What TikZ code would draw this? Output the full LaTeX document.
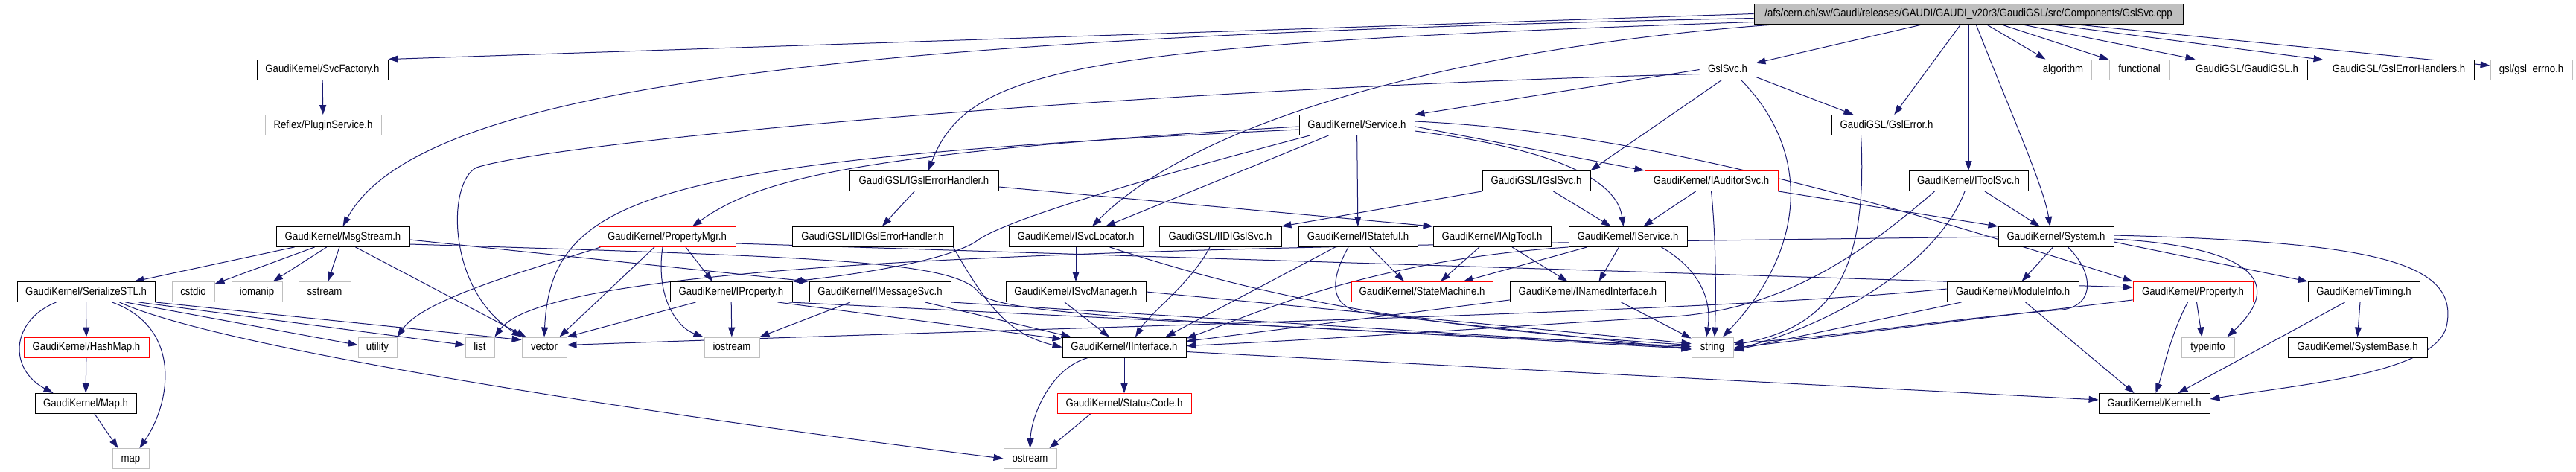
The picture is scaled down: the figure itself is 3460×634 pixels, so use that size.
\documentclass[tikz,border=0pt]{standalone}
\usepackage{fontspec}
\newfontfamily\lsans{Liberation Sans}[FakeStretch=0.88]
\usetikzlibrary{arrows.meta,calc}
\definecolor{edgecol}{HTML}{191970}
\definecolor{grayb}{HTML}{BFBFBF}
\definecolor{redb}{HTML}{FF0000}
\newcommand\nodefont{\lsans\fontsize{15}{18}\selectfont}
\pgfdeclarelayer{bg}
\pgfsetlayers{bg,main}
\tikzset{
  kb/.style={draw=black, fill=white, line width=0.9pt, minimum height=27pt, inner sep=0pt, text height=11pt, text depth=3pt, font=\nodefont},
  rb/.style={kb, draw=redb},
  gb/.style={kb, draw=grayb},
  rootb/.style={kb, fill=grayb},
  ed/.style={draw=edgecol, line width=1pt, -{Triangle[length=13pt,width=9pt]}},
}
\begin{document}
\begin{tikzpicture}[x=1pt,y=-1pt]
\useasboundingbox (0,0) rectangle (3460,634);
% nodes
\node[rootb, minimum width=576pt] (root) at (2644,18.5) {/afs/cern.ch/sw/Gaudi/releases/GAUDI/GAUDI\_v20r3/GaudiGSL/src/Components/GslSvc.cpp};
\node[kb, minimum width=176pt] (svcf) at (433,93.5) {GaudiKernel/SvcFactory.h};
\node[gb, minimum width=156pt] (plugin) at (434,168) {Reflex/PluginService.h};
\node[kb, minimum width=75pt] (gslsvch) at (2320.5,93.5) {GslSvc.h};
\node[gb, minimum width=76pt] (algorithm) at (2771,93.5) {algorithm};
\node[gb, minimum width=81pt] (functional) at (2873.5,93.5) {functional};
\node[kb, minimum width=162pt] (gaudigsl) at (3018,93.5) {GaudiGSL/GaudiGSL.h};
\node[kb, minimum width=202pt] (gslerrhs) at (3222,93.5) {GaudiGSL/GslErrorHandlers.h};
\node[gb, minimum width=110pt] (gslerrno) at (3400,93.5) {gsl/gsl\_errno.h};
\node[kb, minimum width=155pt] (service) at (1822.5,168) {GaudiKernel/Service.h};
\node[kb, minimum width=148pt] (gslerror) at (2534,168) {GaudiGSL/GslError.h};
\node[kb, minimum width=200pt] (igslerrh) at (1241,243) {GaudiGSL/IGslErrorHandler.h};
\node[kb, minimum width=145pt] (igslsvc) at (2063.5,243) {GaudiGSL/IGslSvc.h};
\node[rb, minimum width=179pt] (iauditor) at (2298.5,243) {GaudiKernel/IAuditorSvc.h};
\node[kb, minimum width=160pt] (itoolsvc) at (2644,243) {GaudiKernel/IToolSvc.h};
\node[kb, minimum width=179pt] (msgstream) at (460.5,318) {GaudiKernel/MsgStream.h};
\node[rb, minimum width=184pt] (propmgr) at (896,318) {GaudiKernel/PropertyMgr.h};
\node[kb, minimum width=216pt] (iidigslerrh) at (1172,318) {GaudiGSL/IIDIGslErrorHandler.h};
\node[kb, minimum width=180pt] (isvcloc) at (1445,318) {GaudiKernel/ISvcLocator.h};
\node[kb, minimum width=164pt] (iidigslsvc) at (1639,318) {GaudiGSL/IIDIGslSvc.h};
\node[kb, minimum width=160pt] (istateful) at (1824,318) {GaudiKernel/IStateful.h};
\node[kb, minimum width=158pt] (ialgtool) at (2004,318) {GaudiKernel/IAlgTool.h};
\node[kb, minimum width=159pt] (iservice) at (2186.5,318) {GaudiKernel/IService.h};
\node[kb, minimum width=155pt] (system) at (2761.5,318) {GaudiKernel/System.h};
\node[kb, minimum width=185pt] (serialize) at (115.5,392) {GaudiKernel/SerializeSTL.h};
\node[gb, minimum width=57pt] (cstdio) at (259.5,392) {cstdio};
\node[gb, minimum width=68pt] (iomanip) at (345,392) {iomanip};
\node[gb, minimum width=70pt] (sstream) at (436,392) {sstream};
\node[kb, minimum width=164pt] (iproperty) at (982,392) {GaudiKernel/IProperty.h};
\node[kb, minimum width=190pt] (imsgsvc) at (1182,392) {GaudiKernel/IMessageSvc.h};
\node[kb, minimum width=188pt] (isvcmgr) at (1445,392) {GaudiKernel/ISvcManager.h};
\node[rb, minimum width=190pt] (statemach) at (1910,392) {GaudiKernel/StateMachine.h};
\node[kb, minimum width=209pt] (inamed) at (2132.5,392) {GaudiKernel/INamedInterface.h};
\node[kb, minimum width=177pt] (moduleinfo) at (2703.5,392) {GaudiKernel/ModuleInfo.h};
\node[rb, minimum width=161pt] (property) at (2945.5,392) {GaudiKernel/Property.h};
\node[kb, minimum width=150pt] (timing) at (3175,392) {GaudiKernel/Timing.h};
\node[rb, minimum width=168pt] (hashmap) at (116,466.5) {GaudiKernel/HashMap.h};
\node[gb, minimum width=52pt] (utility) at (507,466.5) {utility};
\node[gb, minimum width=39pt] (list) at (644.5,466.5) {list};
\node[gb, minimum width=60pt] (vector) at (731,466.5) {vector};
\node[gb, minimum width=74pt] (iostream) at (983,466.5) {iostream};
\node[kb, minimum width=166pt] (iinterface) at (1510,466.5) {GaudiKernel/IInterface.h};
\node[gb, minimum width=56pt] (string) at (2300,466.5) {string};
\node[gb, minimum width=71pt] (typeinfo) at (2965.5,466.5) {typeinfo};
\node[kb, minimum width=187pt] (systembase) at (3166.5,466.5) {GaudiKernel/SystemBase.h};
\node[kb, minimum width=136pt] (mapH) at (115,542) {GaudiKernel/Map.h};
\node[rb, minimum width=180pt] (statuscode) at (1510,542) {GaudiKernel/StatusCode.h};
\node[kb, minimum width=149pt] (kernel) at (2893.5,542) {GaudiKernel/Kernel.h};
\node[gb, minimum width=49pt] (mapstd) at (175.5,616) {map};
\node[gb, minimum width=71pt] (ostream) at (1383.5,616) {ostream};

\begin{pgfonlayer}{bg}
% root
\draw[ed] (root.west) -- (svcf.north east);
\draw[ed] ($(root.west)+(0,6)$) .. controls (1100,50) and (560,120) .. (msgstream.north);
\draw[ed] ($(root.west)+(0,11)$) .. controls (1450,60) and (1300,90) .. ($(igslerrh.north)+(6,0)$);
\draw[ed] ($(root.south west)+(35,0)$) .. controls (2000,60) and (1620,150) .. ($(isvcloc.north)+(22,0)$);
\draw[ed] (root) -- (gslsvch);
\draw[ed] (root) -- (gslerror);
\draw[ed] (root) -- (itoolsvc);
\draw[ed] ($(root.south)+(10,0)$) .. controls (2700,150) and (2745,250) .. ($(system.north)+(-8,0)$);
\draw[ed] (root) -- (algorithm);
\draw[ed] (root) -- (functional);
\draw[ed] (root) -- (gaudigsl);
\draw[ed] (root) -- (gslerrhs);
\draw[ed] (root) -- (gslerrno);
% SvcFactory
\draw[ed] (svcf) -- (plugin);
% GslSvc.h
\draw[ed] (gslsvch.west) -- (service.north east);
\draw[ed] ($(gslsvch.west)+(0,6)$) .. controls (1500,120) and (750,190) .. (640,225) .. controls (600,245) and (600,390) .. (vector.north west);
\draw[ed] ($(gslsvch.south west)+(30,0)$) -- (igslsvc.north east);
\draw[ed] ($(gslsvch.south east)+(0,-4)$) -- ($(gslerror.north west)+(30,0)$);
\draw[ed] ($(gslsvch.south east)+(-20,0)$) .. controls (2430,200) and (2430,330) .. ($(string.north)+(14,0)$);
% GslError
\draw[ed] ($(gslerror.south west)+(40,0)$) .. controls (2510,380) and (2450,440) .. ($(string.east)+(0,-3)$);
% Service
\draw[ed] ($(service.west)+(0,2)$) .. controls (1150,205) and (1020,240) .. ($(propmgr.north)+(34,0)$);
\draw[ed] ($(service.west)+(0,6)$) .. controls (880,215) and (740,260) .. (vector.north);
\draw[ed] ($(service.south west)+(40,0)$) -- ($(isvcloc.north)+(40,0)$);
\draw[ed] ($(service.south west)+(15,0)$) .. controls (1500,250) and (1340,300) .. (1310,325) .. controls (1260,355) and (1120,372) .. (iproperty.north east);
\draw[ed] (service) -- (istateful);
\draw[ed] ($(service.east)+(0,2)$) -- (iauditor.north west);
\draw[ed] ($(service.east)+(0,8)$) .. controls (2050,195) and (2170,230) .. ($(iservice.north)+(-6,0)$);
\draw[ed] ($(service.east)+(0,-5)$) .. controls (2150,175) and (2420,235) .. (property.north west);
% IGslErrorHandler
\draw[ed] (igslerrh) -- (iidigslerrh);
\draw[ed] ($(igslerrh.east)+(0,8)$) -- (ialgtool.north west);
% IGslSvc
\draw[ed] (igslsvc.south west) -- (iidigslsvc.north east);
\draw[ed] (igslsvc) -- (iservice);
% IAuditorSvc
\draw[ed] (iauditor) -- (iservice);
\draw[ed] (iauditor.south) .. controls (2305,320) and (2305,400) .. ($(string.north)+(3,0)$);
\draw[ed] (iauditor.south east) -- (system.north west);
% IToolSvc
\draw[ed] (itoolsvc) -- (system);
\draw[ed] ($(itoolsvc.south)+(-5,0)$) .. controls (2600,360) and (2450,440) .. ($(string.east)+(0,3)$);
\draw[ed] ($(itoolsvc.south west)+(35,0)$) .. controls (2480,360) and (2380,415) .. (2250,425) .. controls (2000,440) and (1800,455) .. ($(iinterface.east)+(0,-2)$);
% MsgStream
\draw[ed] (msgstream) -- (serialize);
\draw[ed] (msgstream) -- (cstdio);
\draw[ed] (msgstream) -- (iomanip);
\draw[ed] (msgstream) -- (sstream);
\draw[ed] ($(msgstream.south)+(17,0)$) -- ($(vector.north west)+(6,0)$);
\draw[ed] ($(msgstream.east)+(0,4)$) -- (imsgsvc.north west);
\draw[ed] ($(msgstream.east)+(0,10)$) .. controls (1100,345) and (1280,350) .. (1314,392) .. controls (1335,425) and (1600,430) .. ($(string.west)+(0,2)$);
% PropertyMgr
\draw[ed] ($(propmgr.south)+(25,0)$) -- ($(iproperty.north)+(-25,0)$);
\draw[ed] ($(propmgr.south)+(-17,0)$) -- ($(vector.north east)+(-10,0)$);
\draw[ed] ($(propmgr.south)+(-6,0)$) .. controls (880,400) and (910,440) .. ($(iostream.north west)+(-1,0)$);
\draw[ed] ($(propmgr.east)+(0,9)$) -- ($(property.west)+(0,-6)$);
\draw[ed] ($(propmgr.south west)+(3,0)$) .. controls (720,360) and (570,400) .. (utility.north east);
% IProperty
\draw[ed] ($(iproperty.south west)+(35,0)$) -- (vector.north east);
\draw[ed] (iproperty) -- (iostream);
\draw[ed] ($(iproperty.south east)+(-20,0)$) -- ($(iinterface.north west)+(0,3)$);
\draw[ed] ($(iproperty.south east)+(-5,0)$) -- ($(string.west)+(0,-1)$);
% IMessageSvc
\draw[ed] ($(imsgsvc.south)+(-40,0)$) -- (iostream.north east);
\draw[ed] ($(imsgsvc.south east)+(-35,0)$) -- ($(iinterface.north west)+(12,0)$);
\draw[ed] (imsgsvc.south east) -- ($(string.west)+(0,1)$);
% ISvcLocator
\draw[ed] (isvcloc) -- (isvcmgr);
\draw[ed] ($(isvcloc.south east)+(-45,0)$) .. controls (1700,400) and (1900,440) .. ($(string.west)+(0,-3)$);
% ISvcManager
\draw[ed] ($(isvcmgr.south)+(-15,0)$) -- ($(iinterface.north)+(-20,0)$);
\draw[ed] (isvcmgr.east) -- ($(string.west)+(0,-5)$);
% IIDI
\draw[ed] (iidigslerrh.south east) .. controls (1330,420) and (1360,450) .. (iinterface.west);
\draw[ed] ($(iidigslsvc.south)+(-14,0)$) .. controls (1600,380) and (1545,420) .. ($(iinterface.north)+(15,0)$);
% IStateful
\draw[ed] ($(istateful.south west)+(50,0)$) -- ($(iinterface.north east)+(-28,0)$);
\draw[ed] ($(istateful.south)+(16,0)$) -- ($(statemach.north)+(-24,0)$);
\draw[ed] ($(istateful.south)+(-13,0)$) .. controls (1790,370) and (1780,410) .. (1830,420) .. controls (1950,435) and (2150,455) .. ($(string.west)+(0,3)$);
% IAlgTool
\draw[ed] ($(ialgtool.south)+(-17,0)$) -- ($(statemach.north)+(25,0)$);
\draw[ed] ($(ialgtool.south)+(27,0)$) -- ($(inamed.north)+(-27,0)$);
% IService
\draw[ed] ($(iservice.south)+(-12,0)$) -- ($(inamed.north)+(15,0)$);
\draw[ed] ($(iservice.south west)+(25,0)$) -- ($(statemach.north east)+(-40,0)$);
\draw[ed] ($(iservice.south east)+(-35,0)$) .. controls (2280,360) and (2300,400) .. ($(string.north)+(-8,0)$);
\draw[ed] (iservice.south west) .. controls (1840,350) and (1690,420) .. ($(iinterface.east)+(0,-12)$);
% INamedInterface
\draw[ed] ($(inamed.south west)+(0,-3)$) -- ($(iinterface.east)+(0,-8)$);
\draw[ed] ($(inamed.south east)+(-60,0)$) -- ($(string.north west)+(0,2)$);
% System
\draw[ed] (system.west) .. controls (1800,330) and (750,335) .. (list.north east);
\draw[ed] ($(system.south)+(-4,0)$) -- ($(moduleinfo.north)+(12,0)$);
\draw[ed] ($(system.east)+(0,7)$) -- (timing.north west);
\draw[ed] ($(system.east)+(0,3)$) .. controls (3000,330) and (3080,370) .. ($(typeinfo.north east)+(-10,0)$);
\draw[ed] ($(system.east)+(0,-2)$) .. controls (3180,325) and (3300,350) .. (3287,433) .. controls (3280,500) and (3100,515) .. ($(kernel.east)+(0,-6)$);
\draw[ed] ($(system.south)+(16,0)$) .. controls (2812,365) and (2815,410) .. (2770,416) .. controls (2600,430) and (2450,455) .. ($(string.east)+(0,-6)$);
% ModuleInfo
\draw[ed] ($(moduleinfo.west)+(0,-4)$) .. controls (2300,420) and (1500,437) .. ($(vector.east)+(0,-3)$);
\draw[ed] ($(moduleinfo.south west)+(20,0)$) -- ($(string.east)+(0,4)$);
\draw[ed] ($(moduleinfo.south)+(17,0)$) -- ($(kernel.north)+(-27,0)$);
% Property
\draw[ed] ($(property.south)+(-7,0)$) .. controls (2915,450) and (2905,500) .. ($(kernel.north)+(2,0)$);
\draw[ed] ($(property.south)+(5,0)$) -- ($(typeinfo.north)+(-8,0)$);
\draw[ed] ($(property.south west)+(0,-3)$) -- ($(string.east)+(0,1)$);
% Timing
\draw[ed] ($(timing.south)+(-5,0)$) -- (systembase.north);
\draw[ed] ($(timing.south west)+(50,0)$) -- ($(kernel.north east)+(-43,0)$);
% IInterface
\draw[ed] (iinterface) -- (statuscode);
\draw[ed] ($(iinterface.south west)+(35,0)$) .. controls (1410,495) and (1385,560) .. (ostream.north);
\draw[ed] ($(iinterface.east)+(0,6)$) -- ($(kernel.west)+(0,-5)$);
% StatusCode
\draw[ed] ($(statuscode.south west)+(45,0)$) -- ($(ostream.north east)+(-10,0)$);
% SerializeSTL
\draw[ed] ($(serialize.south west)+(53,0)$) .. controls (15,430) and (10,495) .. ($(mapH.north west)+(25,0)$);
\draw[ed] (serialize) -- (hashmap);
\draw[ed] ($(serialize.south east)+(-58,0)$) .. controls (245,440) and (230,540) .. ($(mapstd.north east)+(-13,0)$);
\draw[ed] ($(serialize.south east)+(-40,0)$) -- ($(utility.west)+(0,-3)$);
\draw[ed] ($(serialize.south east)+(-22,0)$) -- ($(list.west)+(0,-3)$);
\draw[ed] (serialize.south east) -- ($(vector.north west)+(0,4)$);
\draw[ed] ($(serialize.south east)+(-48,0)$) .. controls (300,470) and (900,560) .. (ostream.west);
% HashMap, Map
\draw[ed] (hashmap) -- (mapH);
\draw[ed] ($(mapH.south)+(12,0)$) -- ($(mapstd.north west)+(8,0)$);
\end{pgfonlayer}
\end{tikzpicture}
\end{document}
